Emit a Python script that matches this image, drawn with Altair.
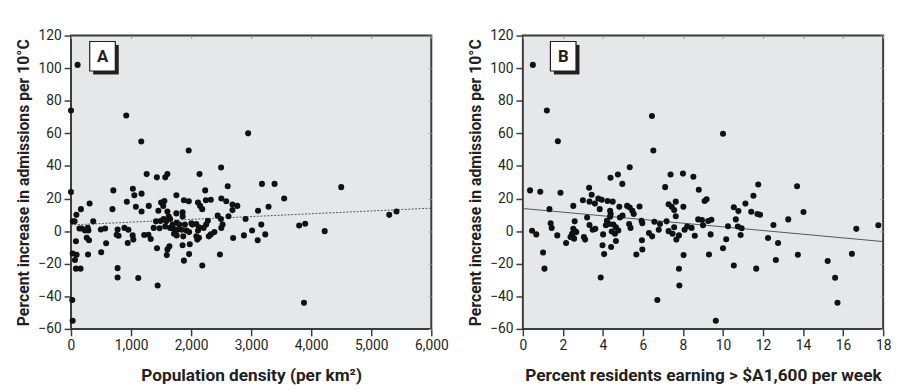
import altair as alt
import pandas as pd

# ---------------- data ----------------
a_density = [0, 110, 920, 1170, 0, 705, 1030, 1055, 1175, 1260, 1430, 930, 1080, 1175, 1295, 310, 165, 690, 90, 30, 60, 370,
             1455, 1415, 1490, 1475, 140, 180, 234, 279, 290, 497, 569, 776, 760, 792, 890, 956, 1027, 1038, 1219, 1290, 1328, 1377,
             262, 300, 82, 585, 945, 28, 93, 284, 503, 66, 82, 159, 776, 776, 1120, 1443, 1432, 21, 28,
             1570, 1605, 1960, 2140, 2500, 2610, 2950, 3180, 2235, 1755, 1500, 1555, 1536, 1880, 1962, 2115, 2150, 2185, 2246, 2328,
             2503, 2585, 2689, 2770, 2689, 1605, 1754, 1858, 1860, 1628, 1651, 1541, 1585, 1569, 1693, 1759, 1803, 1705, 1770, 1841,
             1897, 2005, 2022, 2087, 2131, 2115, 2279, 2251, 2208, 2443, 2497, 2525, 2503, 2623, 2907, 3016, 2880, 2700, 3109, 3169,
             1651, 1716, 1759, 1869, 1923, 1967, 2087, 2103, 2131, 2295, 2328, 2388, 1858, 1978, 1639, 1607, 1595, 1880, 1967, 2186, 2480,
             3390, 4500, 3550, 3290, 3115, 3235, 3800, 3900, 4225, 3880, 5300, 5420]
a_increase = [74, 102, 71, 55, 24, 25, 26, 22, 23, 35, 33, 18, 15, 12, 15.5, 17, 13.5, 13.5, 10, 6, 6, 6,
              12.5, 6, 6.2, 1.8, 1.6, 1.6, 0.4, 2, 0.4, 1, 1.6, 1, -2.2, -2.8, 2, 0.8, -2.6, -5.2, -2.4, -2.2, -4.8, 2,
              -4, -5.6, -6.2, -7.4, -7.3, -13.7, -14.5, -14.3, -13, -17.7, -23, -23, -22.7, -28.4, -28.8, -33.4, -10.5, -42.3, -55,
              33, 35, 49.5, 35, 39, 27.6, 60, 29, 25, 22, 17.5, 18.5, 15.5, 18.9, 18.3, 17.5, 15.5, 13.5, 18.9, 19.3,
              20, 18.3, 16.3, 15.5, 12.9, 12, 10.9, 11.5, 9, 8.9, 7.5, 7.5, 6, 2.8, 4, 5.2, 4, 1.4, 0.8, 0.8,
              4, 4.8, 4, 4.4, 2.4, 0.4, 6.4, 4, 2, 9.5, 7.5, 4, 2, 9.1, 7.5, 0.4, -2.6, -4.2, -5.6, 4,
              2, -1.6, -2.6, -3.2, 0.4, -0.6, -3.2, -5.2, -4, -3.2, -2, -0.6, -8.7, -8, -9.3, -11.2, -14.7, -18.1, -14.1, -21.1, -14.3,
              29, 27, 20, 15, 12.5, -2, 3.5, 4.5, 0, -44, 10, 12]

b_income = [0.5, 1.2, 6.45, 1.75, 6.52, 10.0, 5.34,
            4.38, 4.75, 4.97, 7.11, 7.38, 8.0, 8.52, 8.79, 11.76, 13.7,
            0.36, 0.87, 1.88, 3.31, 3.44, 3.0, 3.33, 3.6, 3.77, 3.94, 4.23, 4.49, 2.52, 3.84, 1.33,
            4.82, 5.21, 5.34, 5.47, 5.83, 4.36, 4.39, 4.36, 5.54,
            7.28, 7.44, 7.64, 7.56, 7.64, 8.02, 9.08, 9.18,
            10.54, 10.77, 11.12, 11.41, 11.52, 11.72, 11.85, 14.02,
            2.59, 3.21, 3.33, 3.49, 3.62, 1.39, 1.44, 0.46, 0.67, 1.72, 2.16,
            2.52, 2.59, 2.67, 2.46, 2.51, 2.38, 2.56, 3.05, 3.11, 4.01, 3.98, 4.06, 1.01, 1.08, 3.89, 4.15, 4.31,
            4.2, 4.52, 4.65, 4.77, 4.85, 4.98, 4.44, 4.6,
            5.31, 5.38, 5.93, 5.97, 6.57, 6.85, 6.79, 6.3, 6.46, 7.28, 7.48, 7.67, 7.8, 7.56, 8.08, 8.21, 8.43, 8.59, 8.76, 8.95, 9.0,
            5.95, 5.97, 4.65, 4.41, 5.67, 8.03, 7.8, 7.82, 6.72, 7.18,
            9.26, 9.42, 9.38, 9.3, 9.64, 10.0, 10.16, 10.25, 10.64, 10.74, 10.93, 10.88, 10.54, 11.66, 12.25, 12.52, 12.64, 12.75,
            13.26, 13.74, 15.23, 15.6, 15.72, 16.44, 16.66, 17.76]
b_increase = [102, 74, 70.7, 55.2, 49.5, 59.8, 39.2,
              32.8, 34.7, 29, 27, 34.7, 35.3, 33.4, 25.4, 28.6, 27.6,
              25, 24.2, 23.6, 26.6, 22.3, 18.9, 18.1, 16.9, 20, 19.3, 18.5, 18.1, 15.5, 13.5, 13.5,
              14.9, 15.5, 14.5, 12.5, 15.1, 12.5, 10.5, 8.9, 10.5,
              16.5, 14.9, 18.1, 12.9, 9.1, 14.9, 18.5, 19.5,
              14.7, 12.3, 16.9, 11.9, 21.7, 10.5, 10.1, 11.7,
              6, 8.4, 3.8, 0.8, 1.4, 4.8, 2, 0.2, -2, -2.6, -7.3,
              1.4, 0, -0.6, -1.6, -4, -3.6, -4.6, -3.6, -5.2, -2, -8.7, -14.1, -13.1, -23, -28.4, 3.6, 4.4,
              6.4, 4, 2.4, 0.4, 8.4, 9.5, -0.2, -1.6,
              4.4, 2, 6.4, 4.8, 5.8, 4.4, 0.8, -1.2, -3.2, 0, -1.6, -5.2, -2.6, 2.4, 0.8, 2.8, 2, -2.8, 7.2, 6.8, 3.6,
              -5.6, -11.3, -6, -9.7, -14.3, -14.7, -23.1, -33.4, -42.3, 6,
              6.2, 7, -2, -14.3, -55, -10.5, -5, 3, 7.2, 2.8, 1.8, -2.4, -21.1, -23, -4.2, 3.8, -17.7, -7.3,
              7.2, -14.5, -18.3, -28.6, -43.9, -13.9, 1.4, 3.6]

# fitted lines (end points)
a_fit_x = [0, 6000]
a_fit_y = [3.8, 14.1]
b_fit_x = [0, 18]
b_fit_y = [13.9, -6.4]

a_xticks = [0, 1000, 2000, 3000, 4000, 5000, 6000]
b_xticks = [0, 2, 4, 6, 8, 10, 12, 14, 16, 18]
y_ticks = [-60, -40, -20, 0, 20, 40, 60, 80, 100, 120]

y_title = "Percent increase in admissions per 10°C"
a_x_title = "Population density (per km²)"
b_x_title = "Percent residents earning > $A1,600 per week"

FONT = "Roboto"
W, H = 366, 298


def panel(xs, ys, fx, fy, xdom, xticks, xtitle, letter, dash, box_x):
    df = pd.DataFrame({"x": xs, "y": ys})
    fit = pd.DataFrame({"x": fx, "y": fy})
    lab = pd.DataFrame({"panel": [letter]})
    xscale = alt.Scale(domain=xdom, nice=False, zero=False)
    yscale = alt.Scale(domain=[-60, 120], nice=False)

    line_kw = dict(strokeWidth=1, color="#555555")
    if dash:
        line_kw["strokeDash"] = [2, 1.5]
    trend = alt.Chart(fit).mark_line(**line_kw).encode(
        x=alt.X("x:Q", scale=xscale,
                axis=alt.Axis(orient="top", values=xticks, labels=False, title=None,
                              tickSize=3, offset=-3, tickColor="#9a9a9a", tickWidth=1, domain=False)),
        y=alt.Y("y:Q", scale=yscale,
                axis=alt.Axis(orient="right", values=y_ticks, labels=False, title=None,
                              tickSize=3, offset=-3, tickColor="#9a9a9a", tickWidth=1, domain=False)),
    )
    pts = alt.Chart(df).mark_circle(size=38, color="#111111", opacity=1).encode(
        x=alt.X("x:Q", scale=xscale,
                axis=alt.Axis(orient="bottom", values=xticks, format=",.0f", title=xtitle, labelFlush=False)),
        y=alt.Y("y:Q", scale=yscale,
                axis=alt.Axis(orient="left", values=y_ticks, format=".0f", title=y_title)),
    )
    shadow = alt.Chart(lab).mark_rect(color="#231f20").encode(
        x=alt.value(box_x + 3.5), x2=alt.value(box_x + 29.5), y=alt.value(9.5), y2=alt.value(39.5))
    box = alt.Chart(lab).mark_rect(fill="white", stroke="#231f20", strokeWidth=1.2).encode(
        x=alt.value(box_x), x2=alt.value(box_x + 26), y=alt.value(6), y2=alt.value(36))
    txt = alt.Chart(lab).mark_text(font=FONT, fontSize=17, fontWeight="bold", color="#231f20",
                                    align="center", baseline="middle").encode(
        x=alt.value(box_x + 13), y=alt.value(21.5), text="panel:N")
    return alt.layer(trend, pts, shadow, box, txt).resolve_axis(x="independent", y="independent").properties(
        width=W, height=H)


pa = panel(a_density, a_increase, a_fit_x, a_fit_y, [0, 6000], a_xticks, a_x_title, "A", True, 19)
pb = panel(b_income, b_increase, b_fit_x, b_fit_y, [0, 18], b_xticks, b_x_title, "B", False, 28)

chart = alt.hconcat(pa, pb, spacing=93, bounds="flush").properties(
    padding={"left": 7, "top": 17, "right": 0, "bottom": 0}
).configure_view(
    fill="#E6E7E8", stroke="#3b3b3b", strokeWidth=2
).configure_axis(
    labelFont=FONT, labelFontSize=14, labelColor="#231f20",
    titleFont=FONT, titleFontWeight="bold", titleColor="#231f20",
    tickColor="#3b3b3b", tickSize=7, tickWidth=1.5, labelPadding=3,
    domain=False, grid=False,
).configure_axisLeft(titlePadding=6, titleFontSize=16).configure_axisBottom(titlePadding=14, titleFontSize=17.5)

chart.save("out.html", embed_options={"renderer": "svg", "actions": False})
